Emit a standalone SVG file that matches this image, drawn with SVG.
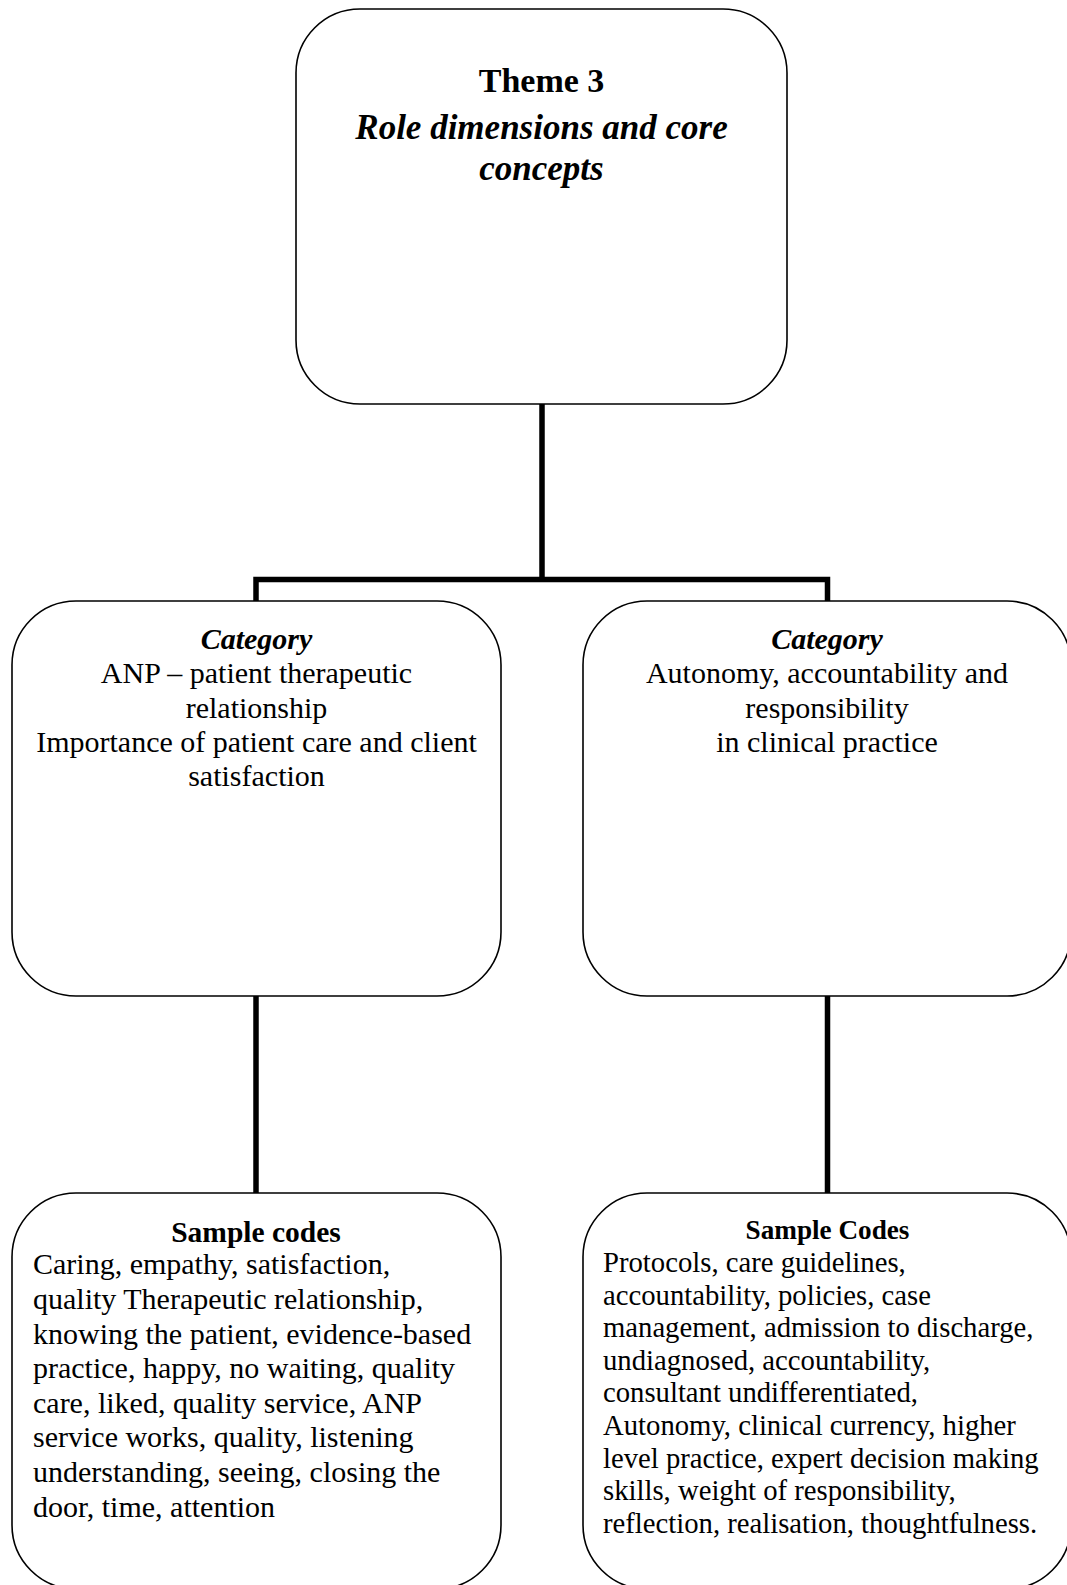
<svg xmlns="http://www.w3.org/2000/svg" width="1067" height="1585" viewBox="0 0 1067 1585">
<style>
.box{fill:#fff;stroke:#000;stroke-width:1.6}
.con{fill:none;stroke:#000;stroke-width:5.5;stroke-linejoin:miter;stroke-linecap:butt}
text{font-family:"Liberation Serif","Times New Roman",serif;fill:#000}
.c{text-anchor:middle}
.b{font-weight:bold}
.i{font-style:italic}
.t30{font-size:30px}
</style>
<rect width="1067" height="1585" fill="#fff"/>
<g id="connectors">
<path class="con" d="M542,404 V579.5 M256,601 V579.5 H827.5 V601"/>
<path class="con" d="M256,996 V1193"/>
<path class="con" d="M827.5,996 V1193"/>
</g>
<g id="theme">
<rect class="box" x="296" y="9" width="491" height="395" rx="64" ry="64"/>
<text class="c b" x="541.5" y="92" font-size="34">Theme 3</text>
<text class="c b i" x="541.5" y="139" font-size="35">Role dimensions and core</text>
<text class="c b i" x="541.5" y="180" font-size="35">concepts</text>
</g>
<g id="category-left">
<rect class="box" x="12" y="601" width="489" height="395" rx="64" ry="64"/>
<text class="c b i t30" x="256.5" y="649">Category</text>
<text class="c t30" x="256.5" y="683.3">ANP – patient therapeutic</text>
<text class="c t30" x="256.5" y="717.6">relationship</text>
<text class="c t30" x="256.5" y="752">Importance of patient care and client</text>
<text class="c t30" x="256.5" y="786.2">satisfaction</text>
</g>
<g id="category-right">
<rect class="box" x="583" y="601" width="488" height="395" rx="64" ry="64"/>
<text class="c b i t30" x="827" y="649">Category</text>
<text class="c t30" x="827" y="683.3">Autonomy, accountability and</text>
<text class="c t30" x="827" y="717.6">responsibility</text>
<text class="c t30" x="827" y="752">in clinical practice</text>
</g>
<g id="codes-left">
<rect class="box" x="12" y="1193" width="489" height="396" rx="64" ry="64"/>
<text class="c b" x="256" y="1241.7" font-size="29.5">Sample codes</text>
<g class="t30">
<text x="33" y="1274.3">Caring, empathy, satisfaction,</text>
<text x="33" y="1308.9">quality Therapeutic relationship,</text>
<text x="33" y="1343.5">knowing the patient, evidence-based</text>
<text x="33" y="1378.1">practice, happy, no waiting, quality</text>
<text x="33" y="1412.7">care, liked, quality service, ANP</text>
<text x="33" y="1447.3">service works, quality, listening</text>
<text x="33" y="1481.9">understanding, seeing, closing the</text>
<text x="33" y="1516.5">door, time, attention</text>
</g>
</g>
<g id="codes-right">
<rect class="box" x="583" y="1193" width="488" height="396" rx="64" ry="64"/>
<text class="c b" x="827.5" y="1239" font-size="27.2">Sample Codes</text>
<g font-size="28.7">
<text x="603" y="1272">Protocols, care guidelines,</text>
<text x="603" y="1304.6">accountability, policies, case</text>
<text x="603" y="1337.2">management, admission to discharge,</text>
<text x="603" y="1369.8">undiagnosed, accountability,</text>
<text x="603" y="1402.4">consultant undifferentiated,</text>
<text x="603" y="1435">Autonomy, clinical currency, higher</text>
<text x="603" y="1467.6">level practice, expert decision making</text>
<text x="603" y="1500.2">skills, weight of responsibility,</text>
<text x="603" y="1532.8">reflection, realisation, thoughtfulness.</text>
</g>
</g>
</svg>
